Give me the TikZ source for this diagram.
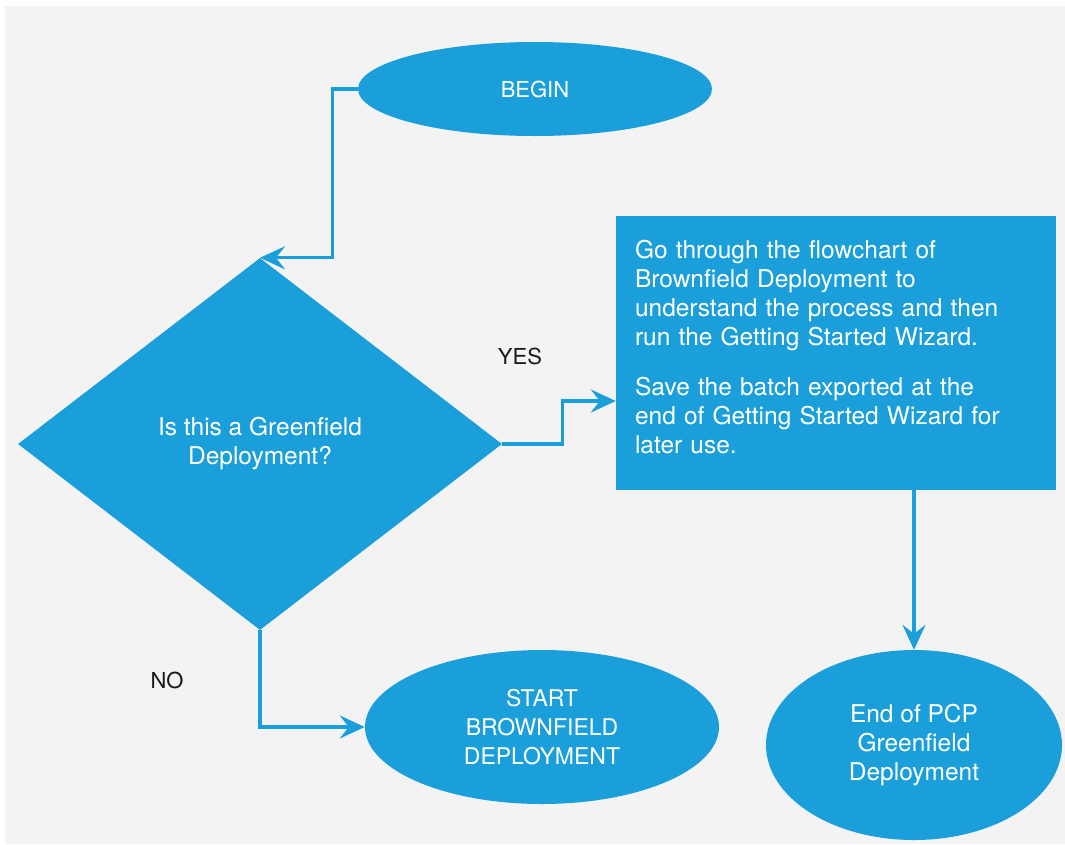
\documentclass[tikz,border=0pt]{standalone}
\usepackage{fontspec}
\setmainfont{TeX Gyre Heros}
\usetikzlibrary{shapes.geometric,arrows.meta}
\definecolor{flowblue}{RGB}{27,159,219}
\definecolor{panelgray}{RGB}{243,243,243}
\begin{document}
\begin{tikzpicture}[x=1pt,y=-1pt,
  shapefill/.style={fill=flowblue,draw=none,text=white,inner sep=0pt,
    font=\fontsize{24.5}{29}\selectfont,align=center},
  oval/.style={shapefill,ellipse},
  arr/.style={draw=flowblue,line width=3.2pt,
    -{Stealth[length=25pt,width=23pt,inset=9pt]}},
  lbl/.style={text=black!90,font=\fontsize{22}{29}\selectfont}]
  % page and panel
  \useasboundingbox (0,0) rectangle (1065,844);
  \fill[white] (0,0) rectangle (1065,844);
  \fill[panelgray] (5,6) rectangle (1065,844);

  % shapes
  \node[oval,minimum width=354pt,minimum height=94pt,
    font=\fontsize{22}{29}\selectfont] (begin) at (535,89) {BEGIN};
  \node[shapefill,diamond,minimum width=484pt,minimum height=372pt] (dia) at (260,444)
    {Is this a Greenfield\\Deployment?};
  \node[shapefill,rectangle,minimum width=440pt,minimum height=274pt] (box) at (836,353) {};
  \node[shapefill,text width=402pt,align=left,yshift=6pt] (boxtext) at (box.center)
    {Go through the flowchart of\\
     Brownfield Deployment to\\
     understand the process and then\\
     run the Getting Started Wizard.\\[21pt]
     Save the batch exported at the\\
     end of Getting Started Wizard for\\
     later use.};
  \node[oval,minimum width=354pt,minimum height=154pt,
    font=\fontsize{23}{29}\selectfont] (start) at (542,727)
    {START\\BROWNFIELD\\DEPLOYMENT};
  \node[oval,minimum width=296pt,minimum height=190pt] (endn) at (914,745)
    {End of PCP\\Greenfield\\Deployment};

  % connectors
  \draw[arr] (begin.west) -- ++(-25,0) |- (dia.north);
  \draw[arr] (dia.east) -- ++(60,0) |- ([yshift=-48pt]box.west);
  \draw[arr] (dia.south) |- (start.west);
  \draw[arr] (box.south -| endn.north) -- (endn.north);

  % branch labels
  \node[lbl] (yes) at (520,356) {YES};
  \node[lbl] (no) at (167,680) {NO};
\end{tikzpicture}
\end{document}
